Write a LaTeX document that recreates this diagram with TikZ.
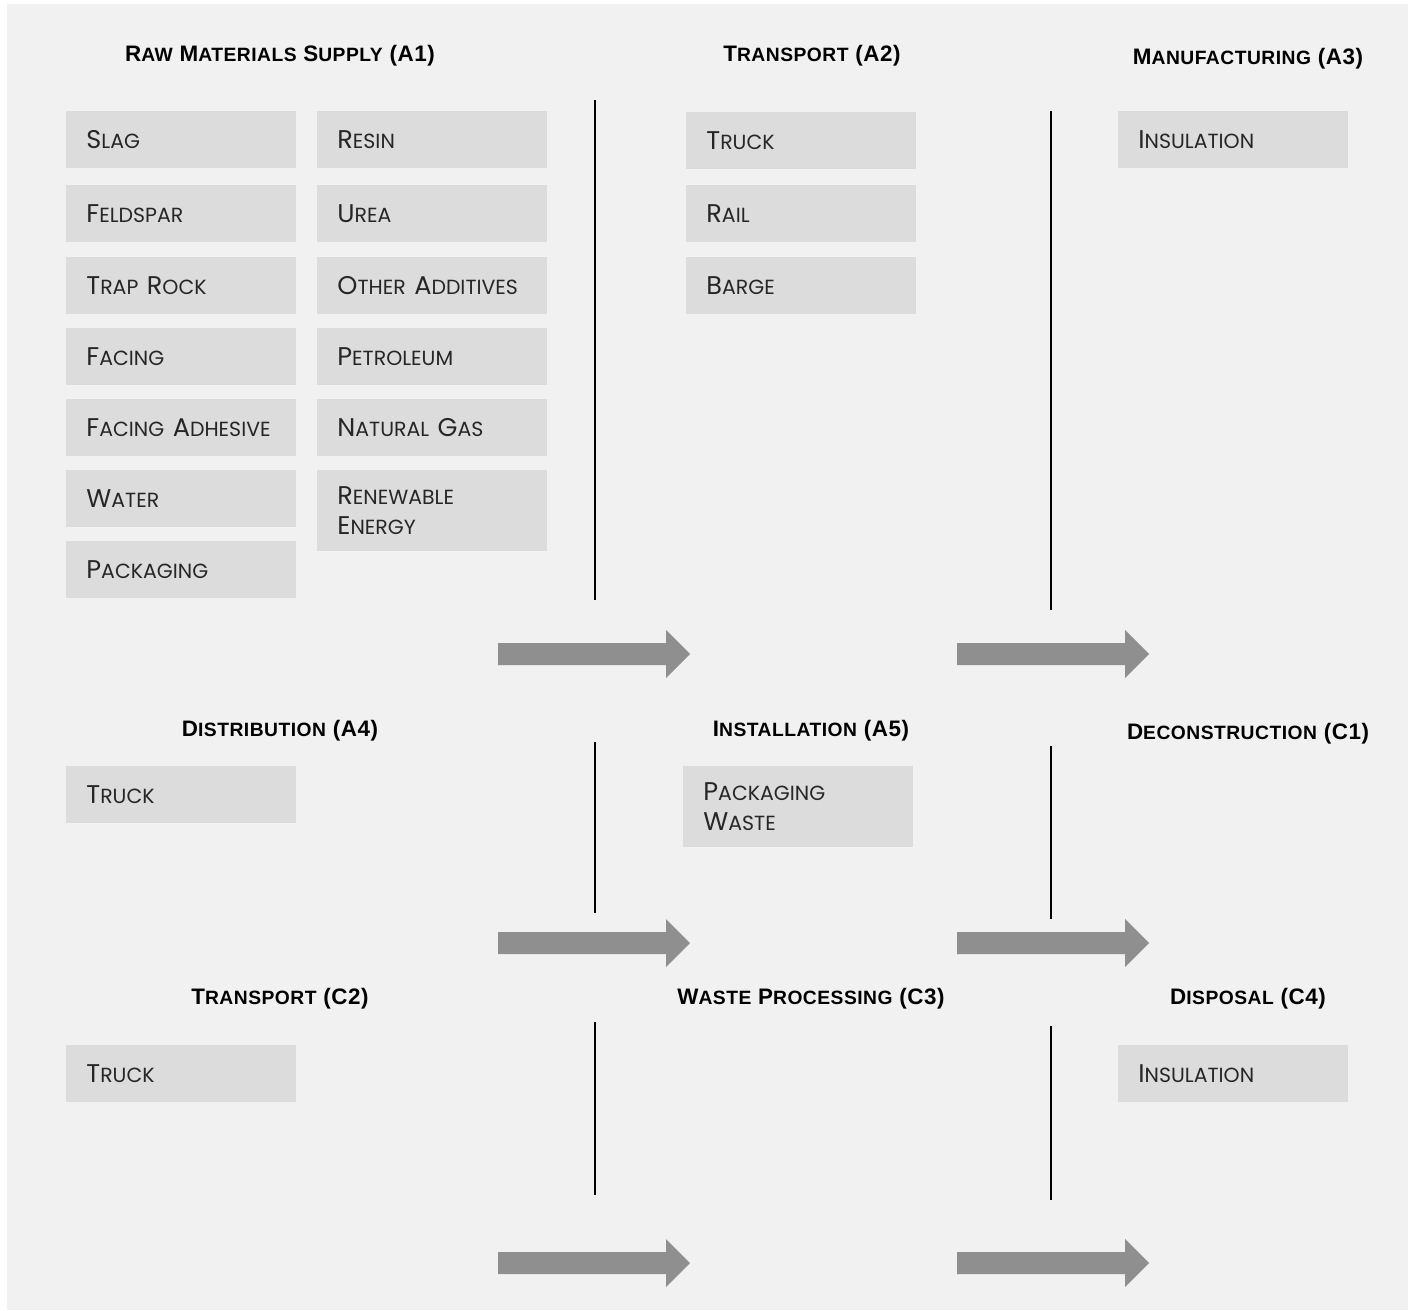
\documentclass[tikz,border=0pt]{standalone}
\usepackage{fontspec}
\setmainfont{Poppins}
\newfontfamily\headfont[LetterSpace=2.5]{Liberation Sans}
\definecolor{bggray}{HTML}{F1F1F1}
\definecolor{boxgray}{HTML}{DCDCDC}
\definecolor{arrowgray}{HTML}{8F8F8F}
\definecolor{inkgray}{HTML}{262626}
\newcommand\smc[1]{\scalebox{0.8}{#1}}
\newcommand\hsmc[1]{\scalebox{0.86}{#1}}

\begin{document}
\begin{tikzpicture}[x=0.5pt, y=-0.5pt,
    box/.style={fill=boxgray, anchor=north west, minimum width=115pt, minimum height=28.5pt,
      text width=95pt, inner xsep=10pt, align=left, text=inkgray, font=\fontsize{12.8}{15}\selectfont},
    tallbox/.style={box, minimum height=40.5pt},
    head/.style={font=\headfont\bfseries\fontsize{11.2}{13}\selectfont},
    sep/.style={line width=0.6pt},
    flow/.style={fill=arrowgray}]

  \useasboundingbox (0,0) rectangle (1415,1311);
  \fill[bggray] (7,4) rectangle (1408,1310);

  % stage headings
  \node[head] (a1) at (280,56) {R\hsmc{AW} M\hsmc{ATERIALS} S\hsmc{UPPLY} (A1)};
  \node[head] (a2) at (812,56) {T\hsmc{RANSPORT} (A2)};
  \node[head] (a3) at (1248,59) {M\hsmc{ANUFACTURING} (A3)};
  \node[head] (a4) at (280,731) {D\hsmc{ISTRIBUTION}\ (A4)};
  \node[head] (a5) at (811,731) {I\hsmc{NSTALLATION} (A5)};
  \node[head] (c1) at (1248,734) {D\hsmc{ECONSTRUCTION} (C1)};
  \node[head] (c2) at (280,999) {T\hsmc{RANSPORT} (C2)};
  \node[head] (c3) at (811,999) {W\hsmc{ASTE} P\hsmc{ROCESSING}\ (C3)};
  \node[head] (c4) at (1248,999) {D\hsmc{ISPOSAL} (C4)};

  % raw materials
  \foreach \y/\n/\t in {111/slag/{S\smc{LAG}}, 185/feldspar/{F\smc{ELDSPAR}}, 257/traprock/{T\smc{RAP} R\smc{OCK}},
      328/facing/{F\smc{ACING}}, 399/adhesive/{F\smc{ACING} A\smc{DHESIVE}}, 470/water/{W\smc{ATER}},
      541/packaging/{P\smc{ACKAGING}}}
    \node[box] (\n) at (66,\y) {\t};
  \foreach \y/\n/\t in {111/resin/{R\smc{ESIN}}, 185/urea/{U\smc{REA}}, 257/additives/{O\smc{THER} A\smc{DDITIVES}},
      328/petroleum/{P\smc{ETROLEUM}}, 399/gas/{N\smc{ATURAL} G\smc{AS}}}
    \node[box] (\n) at (317,\y) {\t};
  \node[tallbox] (energy) at (317,470) {R\smc{ENEWABLE}\\E\smc{NERGY}};

  % transport
  \foreach \y/\n/\t in {112/truckA/{T\smc{RUCK}}, 185/rail/{R\smc{AIL}}, 257/barge/{B\smc{ARGE}}}
    \node[box] (\n) at (686,\y) {\t};

  \node[box] (insulationA) at (1118,111) {I\smc{NSULATION}};
  \node[box] (truckB) at (66,766) {T\smc{RUCK}};
  \node[tallbox] (waste) at (683,766) {P\smc{ACKAGING}\\W\smc{ASTE}};
  \node[box] (truckC) at (66,1045) {T\smc{RUCK}};
  \node[box] (insulationC) at (1118,1045) {I\smc{NSULATION}};

  % separators
  \draw[sep] (595,100) -- (595,600);
  \draw[sep] (1051,111) -- (1051,610);
  \draw[sep] (595,742) -- (595,913);
  \draw[sep] (1051,746) -- (1051,919);
  \draw[sep] (595,1022) -- (595,1195);
  \draw[sep] (1051,1026) -- (1051,1200);

  % flow arrows
  \foreach \x in {498,957}
    \foreach \y in {654,943,1263}
      \fill[flow] (\x,\y-11) -- ++(168,0) -- ++(0,-13) -- (\x+192,\y) -- (\x+168,\y+24)
        -- ++(0,-13) -- (\x,\y+11) -- cycle;
\end{tikzpicture}
\end{document}
